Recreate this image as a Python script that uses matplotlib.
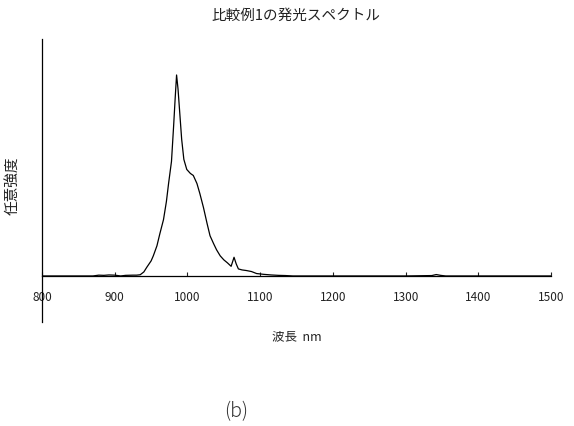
import matplotlib
matplotlib.use("Agg")
import matplotlib.pyplot as plt

plt.rcParams['font.family'] = ['Noto Sans CJK JP', 'DejaVu Sans']

# 比較例1の発光スペクトル（ピーク強度で規格化）
wavelength = [800, 870, 878, 885, 892, 900, 908, 915, 925, 930, 935, 940, 944,
              950, 953, 955, 958, 962, 967, 971, 974, 978, 981, 983, 985, 987,
              989, 992, 995, 999, 1004, 1008, 1013, 1017, 1022, 1027, 1031,
              1036, 1040, 1045, 1050, 1055, 1060, 1064, 1067, 1070, 1075,
              1081, 1088, 1095, 1105, 1115, 1125, 1135, 1145, 1200, 1300,
              1336, 1342, 1348, 1355, 1400, 1500]
intensity = [0.0, 0.0, 0.004, 0.003, 0.005, 0.004, 0.0, 0.003, 0.004, 0.004,
             0.006, 0.02, 0.043, 0.075, 0.10, 0.12, 0.15, 0.21, 0.28, 0.37,
             0.46, 0.57, 0.75, 0.88, 1.0, 0.93, 0.83, 0.68, 0.58, 0.53, 0.51,
             0.50, 0.46, 0.41, 0.34, 0.26, 0.20, 0.16, 0.13, 0.10, 0.08,
             0.065, 0.048, 0.093, 0.06, 0.035, 0.03, 0.027, 0.022, 0.012,
             0.008, 0.005, 0.003, 0.002, 0.0, 0.0, 0.0, 0.002, 0.007, 0.003,
             0.0, 0.0, 0.0]

xticks = [800, 900, 1000, 1100, 1200, 1300, 1400, 1500]

fig = plt.figure(figsize=(5.74, 4.27), dpi=100)
ax = fig.add_axes([0.0732, 0.2436, 0.887, 0.6627])

ax.plot(wavelength, intensity, color='black', linewidth=0.9)

ax.set_xlim(800, 1500)
ax.set_ylim(-0.229, 1.179)

# 軸の体裁
ax.spines['top'].set_visible(False)
ax.spines['right'].set_visible(False)
ax.spines['bottom'].set_position(('data', 0))
ax.spines['left'].set_linewidth(0.9)
ax.spines['bottom'].set_linewidth(0.9)

ax.set_xticks(xticks)
ax.set_xticklabels([str(v) for v in xticks])
ax.set_yticks([])
ax.tick_params(axis='x', direction='in', length=3, width=0.8, pad=10,
               labelsize=8.5, colors='#222222')

fig.text(0.516, 0.962, '比較例1の発光スペクトル', ha='center', va='center',
         fontsize=10.5, color='#222222')
fig.text(0.024, 0.564, '任意強度', ha='center', va='center', rotation=90,
         fontsize=10.5, color='#222222')
fig.text(0.517, 0.211, '波長  nm', ha='center', va='center',
         fontsize=9, color='#222222')
fig.text(0.411, 0.037, '(b)', ha='center', va='center',
         fontsize=14, color='#333333', fontweight='light')

fig.savefig('out.png', dpi=100)
